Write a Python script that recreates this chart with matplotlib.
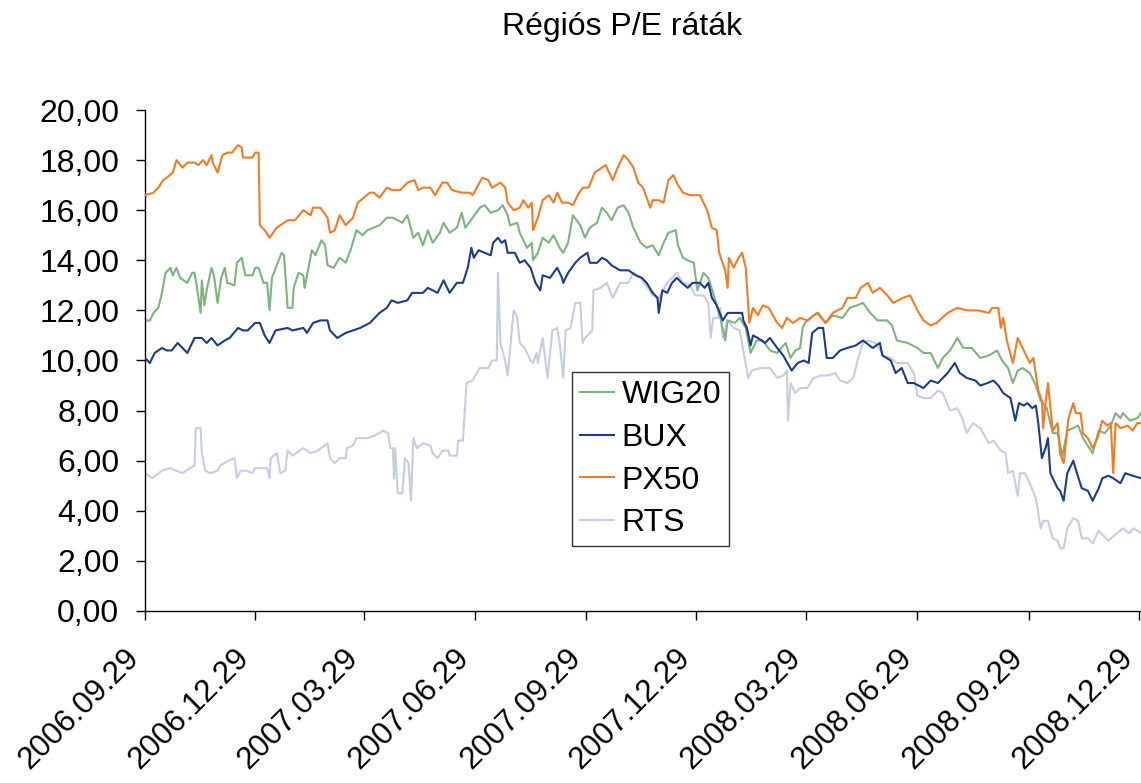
import pandas as pd
import matplotlib.pyplot as plt
from matplotlib.transforms import ScaledTranslation

plt.rcParams['font.family'] = ['Liberation Sans', 'DejaVu Sans']

start = pd.Timestamp('2006-09-29')

# napok a kezdettol (2006.09.29) + P/E ertekek
px50_days = [0, 7, 11, 15, 18, 23, 26, 31, 35, 41, 44, 48, 51, 55, 56, 60, 64, 68, 72, 77, 80, 81, 89, 91, 94,
             95, 99, 103, 109, 118, 124, 131, 137, 139, 145, 151, 153, 157, 161, 166, 172, 176, 186, 189, 194,
             200, 205, 211, 217, 223, 226, 230, 236, 240, 246, 250, 254, 262, 269, 271, 279, 284, 287, 294, 298,
             300, 305, 310, 313, 317, 320, 321, 325, 329, 334, 338, 341, 345, 350, 354, 358, 362, 367, 372, 381,
             387, 391, 396, 400, 404, 408, 412, 418, 420, 425, 429, 433, 437, 441, 445, 451, 459, 465, 469, 473,
             475, 480, 482, 483, 487, 491, 494, 497, 500, 503, 507, 511, 516, 523, 527, 531, 536, 542, 548, 556,
             563, 569, 577, 581, 588, 592, 598, 602, 608, 614, 619, 627, 633, 639, 644, 650, 655, 664, 672, 680,
             689, 698, 701, 706, 708, 710, 713, 718, 722, 727, 732, 735, 739, 742, 743, 745, 747, 751, 755, 757,
             760, 764, 768, 770, 774, 776, 780, 784, 788, 792, 796, 799, 801, 803, 807, 813, 817, 821, 824]
px50 = [16.6, 16.7, 16.9, 17.2, 17.3, 17.5, 18.0, 17.7, 17.9, 17.9, 17.8, 18.0, 17.8, 18.2, 17.9, 17.5, 18.2, 18.3,
        18.3, 18.6, 18.5, 18.1, 18.1, 18.3, 18.3,
        15.4, 15.2, 14.9, 15.3, 15.6, 15.6, 16.0, 15.8, 16.1, 16.1, 15.7, 15.1, 15.2, 15.8, 15.4, 15.7, 16.3, 16.7,
        16.7, 16.5,
        16.9, 16.8, 16.8, 17.1, 17.2, 16.8, 16.9, 16.9, 16.6, 17.1, 17.1, 16.8, 16.7, 16.7, 16.6, 17.3, 17.2, 16.9,
        17.1, 16.9,
        16.3, 16.0, 16.1, 16.4, 16.1, 16.3, 15.2, 15.7, 16.4, 16.6, 16.3, 16.7, 16.3, 16.3, 16.2, 16.6, 16.9, 16.9,
        17.5, 17.8,
        17.2, 17.7, 18.2, 18.0, 17.7, 17.1, 16.9, 16.1, 16.4, 16.4, 16.3, 17.2, 17.4, 17.0, 16.7, 16.6, 16.6, 16.0,
        15.3, 15.2,
        14.3, 13.6, 12.9, 14.1, 13.7, 14.1, 14.3, 13.7, 11.5, 12.1, 11.8, 12.2, 12.1, 11.5, 11.3, 11.7, 11.5, 11.7,
        11.6, 11.9,
        11.5, 11.9, 12.1, 12.5, 12.5, 12.9, 13.1, 12.7, 12.9, 12.6, 12.3, 12.5, 12.6, 12.0, 11.6, 11.4, 11.5, 11.9,
        12.1, 12.0,
        12.0, 11.9, 12.1, 12.1, 11.3, 11.7, 10.8, 9.9, 10.9, 10.4, 9.9, 10.1, 8.8, 8.4, 7.3, 8.3, 9.1, 7.2, 7.5, 6.3,
        5.9, 7.7, 8.3, 7.9, 7.9, 7.1, 6.9, 6.5, 6.9, 7.6, 7.4, 7.5, 5.5, 7.5, 7.3, 7.4, 7.2, 7.5, 7.5]

wig20_days = [0, 4, 7, 11, 14, 17, 21, 23, 26, 29, 35, 39, 41, 43, 46, 47, 49, 51, 55, 57, 60, 63, 66, 68, 74, 76,
              80, 83, 89, 91, 94, 98, 101, 103, 105, 109, 113, 115, 118, 122, 123, 127, 131, 132, 138, 141, 146,
              149, 151, 156, 161, 166, 170, 175, 180, 184, 189, 194, 200, 205, 213, 217, 222, 226, 230, 234, 238,
              244, 247, 252, 258, 262, 265, 271, 277, 281, 286, 292, 296, 300, 302, 308, 310, 316, 320, 321, 325,
              329, 334, 338, 343, 346, 350, 354, 360, 364, 368, 374, 378, 382, 386, 391, 396, 400, 404, 410, 415,
              420, 425, 429, 433, 439, 441, 445, 449, 454, 457, 462, 466, 470, 476, 480, 482, 488, 492, 497, 501,
              506, 511, 517, 523, 530, 534, 538, 542, 544, 546, 553, 557, 563, 569, 577, 583, 589, 594, 600, 606,
              614, 618, 622, 631, 639, 644, 650, 656, 660, 666, 672, 677, 684, 691, 698, 705, 709, 714, 718, 722,
              726, 732, 737, 741, 746, 751, 755, 759, 763, 768, 772, 776, 784, 789, 794, 799, 803, 807, 809, 815,
              821, 824]
wig20 = [11.6, 11.6, 11.9, 12.1, 12.7, 13.5, 13.7, 13.4, 13.7, 13.3, 13.1, 13.5, 13.5, 12.9, 11.9, 13.2, 12.2, 12.8,
         13.7, 13.4, 12.3, 13.3, 13.7, 13.1, 13.0, 13.9,
         14.1, 13.4, 13.4, 13.7, 13.7, 13.1, 13.1, 12.0, 13.3, 13.8, 14.3, 14.2, 12.1, 12.1, 12.9, 13.5, 13.4, 12.9,
         14.4, 14.2, 14.8,
         14.6, 13.8, 13.7, 14.1, 13.9, 14.4, 15.2, 15.0, 15.2, 15.3, 15.4, 15.7, 15.7, 15.5, 15.8, 14.9, 15.1, 14.6,
         15.2, 14.7,
         15.1, 15.5, 15.1, 15.3, 15.9, 15.3, 15.7, 16.1, 16.2, 15.9, 16.0, 16.2, 15.8, 15.4, 15.5, 15.1, 14.5, 14.7,
         14.0, 14.3,
         14.9, 14.7, 15.0, 14.5, 14.3, 14.7, 15.8, 15.4, 14.9, 15.3, 15.5, 16.1, 15.9, 15.6, 16.1, 16.2, 15.9, 15.3,
         14.7, 14.5,
         14.6, 14.2, 14.7, 15.1, 15.2, 14.6, 14.1, 14.0, 13.9, 12.8, 13.5, 13.3, 12.7, 11.7, 10.8, 11.6, 11.5, 11.7,
         11.3, 10.3,
         10.8, 10.8, 10.4, 10.3, 10.7, 10.1, 10.4, 10.5, 11.3, 11.5, 11.8, 11.9, 11.5, 11.8, 11.7, 12.1, 12.2, 12.3,
         11.9, 11.6,
         11.6, 11.4, 10.8, 10.7, 10.5, 10.3, 10.3, 9.7, 10.1, 10.4, 10.9, 10.5, 10.5, 10.1, 10.2, 10.4, 10.0, 9.7, 9.1,
         9.6,
         9.7, 9.5, 9.0, 8.4, 8.1, 7.1, 7.1, 6.2, 7.2, 7.3, 7.4, 6.9, 6.3, 7.2, 7.1, 7.4, 7.9, 7.7, 7.9, 7.6,
         7.7, 7.9]

bux_days = [0, 4, 8, 14, 18, 22, 27, 35, 41, 47, 51, 55, 60, 66, 70, 77, 81, 85, 91, 95, 99, 103, 108, 118, 122,
            131, 134, 139, 145, 151, 153, 159, 166, 172, 178, 186, 190, 194, 200, 204, 209, 217, 221, 226, 230, 234,
            238, 242, 247, 252, 258, 263, 267, 270, 272, 276, 281, 286, 288, 292, 295, 298, 300, 306, 310, 314, 319,
            323, 327, 329, 335, 341, 345, 346, 350, 356, 360, 366, 368, 374, 378, 382, 386, 393, 400, 406, 411,
            415, 420, 424, 425, 428, 432, 436, 440, 444, 449, 453, 459, 463, 466, 469, 473, 478, 482, 488, 494,
            495, 498, 501, 503, 507, 513, 517, 523, 528, 535, 540, 545, 549, 552, 557, 561, 564, 569, 575, 581,
            588, 594, 602, 608, 610, 617, 621, 626, 631, 636, 644, 650, 656, 664, 670, 674, 680, 687, 691, 697,
            702, 706, 710, 716, 720, 723, 727, 730, 734, 737, 739, 742, 745, 747, 749, 755, 757, 760, 763, 768,
            771, 775, 780, 784, 789, 792, 797, 801, 807, 811, 817, 824]
bux = [10.1, 9.9, 10.3, 10.5, 10.4, 10.4, 10.7, 10.3, 10.9, 10.9, 10.7, 10.9, 10.6, 10.8, 10.9, 11.3, 11.2, 11.2,
       11.5, 11.5, 11.0, 10.7, 11.2, 11.3, 11.2,
       11.3, 11.1, 11.5, 11.6, 11.6, 11.2, 10.9, 11.1, 11.2, 11.3, 11.5, 11.7, 11.9, 12.1, 12.4, 12.3, 12.4, 12.7,
       12.7, 12.7, 12.9,
       12.8, 12.7, 13.2, 12.7, 13.1, 13.1, 13.7, 14.5, 14.1, 14.4, 14.3, 14.2, 14.7, 14.9, 14.7, 14.8, 14.3, 14.3,
       13.9, 14.0, 13.7,
       13.1, 12.8, 13.4, 13.3, 13.7, 13.3, 13.1, 13.5, 13.9, 14.1, 14.3, 13.9, 13.9, 14.1, 14.0, 13.8, 13.6, 13.6,
       13.4, 13.3,
       13.1, 12.7, 12.5, 11.9, 12.8, 12.7, 13.1, 13.3, 13.1, 12.9, 13.1, 13.1, 12.9, 13.1, 12.5, 12.2, 11.6, 11.9,
       11.9, 11.9,
       11.6, 11.3, 10.6, 11.0, 10.9, 10.7, 10.9, 10.5, 10.2, 9.6, 9.9, 10.0, 9.9, 11.1, 11.3, 11.3, 10.1, 10.1, 10.4,
       10.5,
       10.6, 10.8, 10.5, 10.7, 10.2, 10.0, 9.5, 9.7, 9.1, 9.1, 8.9, 9.2, 9.1, 9.5, 9.9, 9.5, 9.3, 9.2, 9.0, 9.1,
       9.2, 9.0, 8.7, 8.5, 7.6, 8.3, 8.2, 8.3, 8.1, 8.2, 7.5, 6.1, 6.5, 6.9, 5.5, 4.9, 4.8, 4.4, 5.5, 6.0,
       5.5, 4.9, 4.8, 4.4, 4.9, 5.3, 5.4, 5.3, 5.1, 5.5, 5.4, 5.3]

rts_days = [0, 6, 14, 21, 31, 37, 41, 42, 46, 47, 50, 54, 60, 62, 69, 74, 76, 79, 84, 89, 91, 101, 103, 104, 109,
            112, 116, 118, 122, 131, 137, 143, 151, 153, 157, 161, 166, 167, 172, 175, 184, 190, 197, 201, 203,
            205, 206, 207, 209, 213, 215, 218, 220, 222, 225, 230, 236, 238, 242, 246, 251, 252, 258, 259, 263,
            266, 271, 277, 284, 287, 291, 292, 294, 298, 300, 305, 308, 310, 314, 319, 321, 324, 325, 329, 333,
            337, 341, 343, 346, 348, 352, 356, 360, 362, 364, 370, 371, 377, 382, 387, 393, 400, 404, 410, 416,
            420, 425, 432, 440, 445, 451, 455, 462, 466, 468, 470, 474, 476, 478, 482, 487, 492, 495, 499, 502,
            509, 517, 523, 528, 531, 532, 534, 538, 542, 548, 553, 559, 565, 571, 575, 581, 586, 590, 594, 598,
            604, 607, 611, 617, 622, 631, 636, 639, 644, 650, 656, 660, 666, 672, 676, 680, 685, 691, 698, 702,
            708, 712, 714, 718, 722, 724, 728, 732, 737, 741, 743, 747, 751, 755, 757, 760, 763, 768, 772, 775,
            780, 784, 789, 793, 797, 804, 809, 814, 818, 824]
rts = [5.5, 5.3, 5.6, 5.7, 5.5, 5.7, 5.8, 7.3, 7.3, 6.3, 5.6, 5.5, 5.6, 5.8, 6.0, 6.1, 5.3, 5.6, 5.6, 5.5, 5.7, 5.7,
       5.3, 6.1, 6.3,
       5.5, 5.6, 6.4, 6.2, 6.5, 6.3, 6.4, 6.7, 6.1, 5.9, 6.1, 6.1, 6.5, 6.6, 6.9, 6.9, 7.0, 7.2, 7.1, 6.5,
       6.5, 5.3, 6.5, 4.7, 4.7, 6.1, 5.9, 4.4, 6.9, 6.5, 6.7, 6.6, 6.3, 6.1, 6.4, 6.4, 6.2, 6.2, 6.8, 6.8,
       9.1, 9.2, 9.7, 9.7, 10.0, 10.0, 13.5, 10.7, 10.0, 9.4, 12.0, 11.7, 10.7, 10.5, 10.0, 9.9, 10.3, 9.9, 10.9, 9.3,
       11.2, 11.3, 10.7, 9.3, 11.2, 11.3, 12.3, 12.3, 10.7, 10.9, 11.2, 12.8, 12.9, 13.1, 12.5, 13.1, 13.1, 13.5, 13.3,
       12.9,
       12.6, 12.5, 13.1, 13.5, 13.1, 13.0, 12.6, 12.6, 12.3, 10.9, 11.7, 11.7, 12.1, 10.9, 11.6, 11.3, 11.2, 10.4,
       9.3, 9.6,
       9.7, 9.7, 9.3, 9.4, 9.6, 7.6, 9.1, 8.7, 8.9, 8.9, 9.3, 9.4, 9.4, 9.5, 9.2, 9.1, 9.3, 10.1, 10.7, 10.8,
       10.7, 10.5, 10.2, 10.1, 9.9, 9.9, 9.5, 8.6, 8.5, 8.5, 8.8, 8.7, 8.0, 8.1, 7.7, 7.1, 7.5, 7.3, 6.7, 6.8,
       6.4, 6.3, 5.5, 5.6, 4.6, 5.5, 5.5, 5.1, 4.5, 3.3, 3.6, 3.6, 2.9, 2.8, 2.5, 2.5, 3.3, 3.7, 3.6, 2.9,
       2.9, 2.7, 3.2, 3.0, 2.8, 3.1, 3.3, 3.1, 3.3, 3.1]

tick_dates = ['2006-09-29', '2006-12-29', '2007-03-29', '2007-06-29', '2007-09-29',
              '2007-12-29', '2008-03-29', '2008-06-29', '2008-09-29', '2008-12-29']
y_ticks = [0, 2, 4, 6, 8, 10, 12, 14, 16, 18, 20]


def to_dates(days):
    return start + pd.to_timedelta(days, unit='D')


fig = plt.figure(figsize=(11.41, 7.83), dpi=100)
ax = fig.add_axes([0.1271, 0.2197, 0.8729, 0.6398])

ax.plot(to_dates(rts_days), rts, color='#C6CDE2', lw=1.5, label='RTS', zorder=1)
ax.plot(to_dates(wig20_days), wig20, color='#7DB37F', lw=1.5, label='WIG20', zorder=2)
ax.plot(to_dates(bux_days), bux, color='#1C3A8E', lw=1.5, label='BUX', zorder=3)
ax.plot(to_dates(px50_days), px50, color='#F57B22', lw=1.5, label='PX50', zorder=4)

ax.set_xlim(start, start + pd.Timedelta(days=824))
ax.set_ylim(0, 20)
ax.set_yticks(y_ticks)
ax.set_yticklabels([f'{v:.2f}'.replace('.', ',') for v in y_ticks])

ax.tick_params(axis='both', direction='out', length=6.5, width=1, colors='black')
ax.tick_params(axis='y', pad=12, labelsize=23)
ax.tick_params(axis='x', pad=24)
for s in ['top', 'right']:
    ax.spines[s].set_visible(False)
for s in ['left', 'bottom']:
    ax.spines[s].set_linewidth(1)

ticks = pd.to_datetime(tick_dates)
ax.set_xticks(ticks)
ax.set_xticklabels([t.strftime('%Y.%m.%d') for t in ticks], rotation=45, ha='right',
                   va='center', rotation_mode='anchor', fontsize=22.5)
# cimkek kicsit balra, mint az eredetin
offset = ScaledTranslation(-0.10, 0, fig.dpi_scale_trans)
for lbl in ax.get_xticklabels():
    lbl.set_transform(lbl.get_transform() + offset)

fig.text(0.545, 0.966, 'Régiós P/E ráták', ha='center', va='center', fontsize=23)

handles, labels = ax.get_legend_handles_labels()
order = ['WIG20', 'BUX', 'PX50', 'RTS']
hmap = dict(zip(labels, handles))
leg = fig.legend([hmap[k] for k in order], order, loc='upper left',
                 bbox_to_anchor=(572 / 1141, 1 - 372 / 783), fontsize=23, frameon=True,
                 fancybox=False, framealpha=1, edgecolor='#333333', borderpad=0.25,
                 handlelength=1.05, handletextpad=0.25, labelspacing=0.4, borderaxespad=0)
leg.get_frame().set_linewidth(1)

plt.savefig('out.png', dpi=100)
